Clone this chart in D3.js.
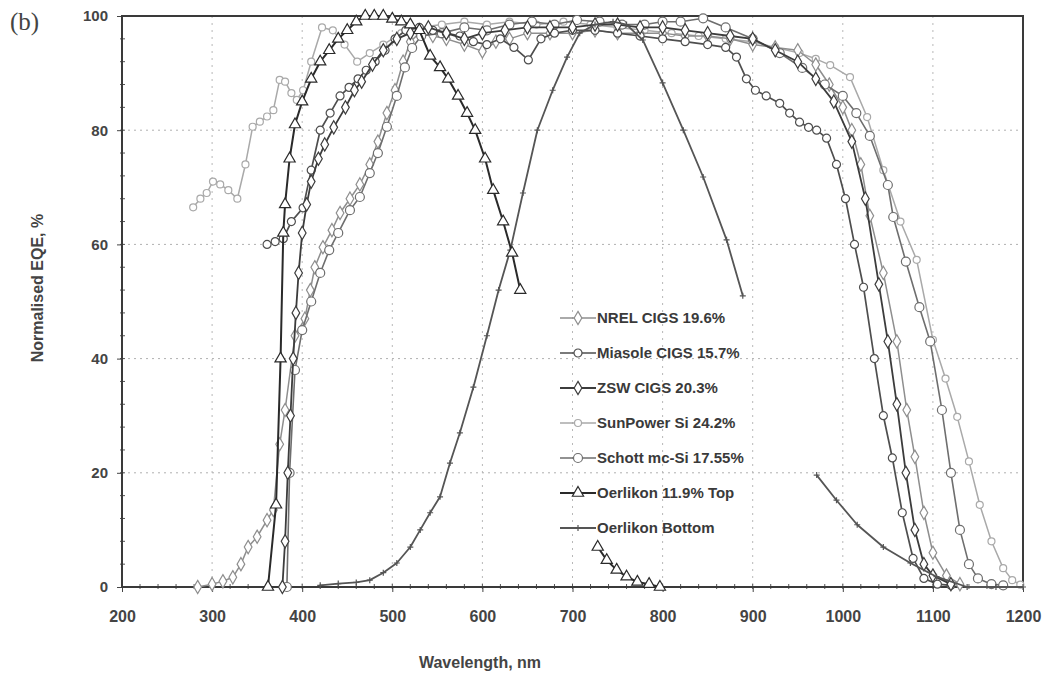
<!DOCTYPE html>
<html>
<head>
<meta charset="utf-8">
<script src="https://cdn.jsdelivr.net/npm/d3@7"></script>
<style>
  body { margin: 0; background: #fff; }
  .tick text { font-family: Arial, "Liberation Sans", sans-serif; font-weight: bold; fill: #444; }
  .label { font-family: Arial, "Liberation Sans", sans-serif; font-weight: bold; fill: #444; }
  .legendText { font-family: Arial, "Liberation Sans", sans-serif; font-weight: bold; font-size: 15px; fill: #3a3a3a; }
</style>
</head>
<body>
<svg id="visual0" width="1052" height="687"></svg>
<script>
// Tick values
var xTicks = [200, 300, 400, 500, 600, 700, 800, 900, 1000, 1100, 1200];
var yTicks = [0, 20, 40, 60, 80, 100];

// Series names (legend order)
var seriesNames = ["NREL CIGS 19.6%", "Miasole CIGS 15.7%", "ZSW CIGS 20.3%", "SunPower Si 24.2%",
  "Schott mc-Si 17.55%", "Oerlikon 11.9% Top", "Oerlikon Bottom"];

// Data (wavelength nm, normalised EQE %)
var nrelNm = [284, 300, 312, 323, 332, 340, 350, 361, 368, 375, 381, 392, 403, 409, 414, 423, 433, 442, 453, 464, 475, 484, 494, 503, 512, 520, 530, 545, 560, 580, 600, 615, 630, 650, 675, 700, 725, 750, 775, 800, 825, 850, 875, 900, 925, 950, 970, 985, 1000, 1010, 1020, 1030, 1045, 1060, 1071, 1080, 1090, 1100, 1115, 1130];
var nrelEqe = [0, 0.5, 1, 1.7, 4, 7, 8.8, 11.7, 13.5, 25, 31, 44, 47, 52, 56, 59.5, 62.5, 65.5, 68, 70.5, 74, 78, 83, 87, 92, 95.5, 97, 96.5, 96, 95, 93.8, 95.5, 96, 97, 97, 97, 97.5, 97, 97, 97, 96.5, 96.5, 96, 95, 94.5, 94, 91.5, 88, 84, 80, 74, 65, 55, 43, 31, 22.8, 13, 6, 2, 0.5];

var miasoleNm = [361, 370, 379, 388, 401, 410, 420, 431, 442, 452, 462, 471, 481, 492, 503, 515, 530, 545, 560, 575, 590, 605, 620, 635, 651, 665, 680, 700, 725, 750, 775, 800, 825, 850, 870, 882, 893, 903, 915, 930, 941, 952, 962, 971, 982, 993, 1003, 1013, 1023, 1035, 1045, 1055, 1066, 1078, 1090, 1105, 1120];
var miasoleEqe = [60, 60.5, 61, 64, 66.4, 73, 80, 83, 86, 87.5, 89, 90.5, 92, 94, 96, 97.5, 98, 97.5, 97, 96.5, 95.5, 95, 96, 94.5, 92.3, 96, 97, 97.5, 97.5, 97, 96.5, 96, 95.5, 95, 94.5, 92.8, 89, 87, 86, 84.7, 83, 81.4, 80.5, 80, 78.6, 74, 68, 60, 52.5, 40, 30, 22.6, 13, 5, 1.5, 0.5, 0.3];

var zswNm = [378, 381, 384, 387, 390, 393, 396, 400, 405, 410, 418, 425, 435, 448, 458, 466, 478, 490, 505, 520, 540, 560, 580, 600, 625, 650, 675, 700, 725, 750, 775, 800, 825, 850, 875, 900, 925, 950, 970, 990, 1010, 1025, 1040, 1050, 1060, 1070, 1080, 1090, 1100, 1120];
var zswEqe = [0, 8, 20, 30, 40, 48, 55, 62, 67, 71, 75, 77.5, 80.5, 84, 87, 88.5, 91.5, 94, 96, 97, 98, 97, 96, 97, 97.5, 98, 98, 98, 98.5, 98.5, 98, 98, 97.5, 97, 96.5, 96, 94, 92, 89, 85, 78, 68, 53, 43, 32, 20, 10, 4, 2, 0.5];

var sunpowerNm = [279, 287, 294, 301, 309, 318, 328, 337, 345, 353, 361, 368, 375, 381, 388, 394, 401, 410, 422, 434, 447, 461, 475, 490, 510, 530, 555, 580, 605, 630, 660, 690, 720, 750, 780, 810, 840, 870, 900, 925, 952, 970, 986, 1008, 1027, 1045, 1064, 1082, 1100, 1114, 1127, 1140, 1152, 1165, 1178, 1188, 1197];
var sunpowerEqe = [66.5, 68, 69, 71, 70.5, 69.5, 68, 74, 80.6, 81.5, 82.4, 83.5, 88.8, 88.5, 86.5, 85.3, 87, 92, 98, 97.5, 95, 92, 93.5, 95, 97, 98, 98.5, 99, 98.5, 99, 98.5, 99, 98.5, 98, 97.5, 97, 96.5, 96, 95.5, 94.5, 93.5, 92.5, 91.4, 89.3, 82.3, 73, 64, 57.3, 43.3, 36.5, 29.8, 22, 14.4, 8, 3.3, 1.2, 0.4];

var schottNm = [383, 386, 392, 400, 410, 420, 430, 440, 453, 464, 475, 484, 494, 505, 514, 522, 532, 555, 580, 605, 630, 655, 680, 705, 730, 755, 780, 800, 820, 845, 870, 900, 930, 955, 980, 1000, 1015, 1030, 1050, 1056, 1070, 1085, 1097, 1110, 1120, 1130, 1140, 1150, 1165, 1178];
var schottEqe = [0, 20, 38, 45, 50, 55, 59, 62, 66, 68.3, 72.5, 76, 80.6, 86, 91, 94.4, 96.5, 97, 98, 97.5, 98.5, 99, 98.5, 99.3, 99, 98.5, 98.5, 99, 99, 99.6, 98, 96, 93.5, 90.9, 88, 86, 83, 79, 70.4, 64.8, 57, 49, 43, 31, 20, 10, 4, 1.5, 0.5, 0.3];

// null marks a gap in the curve
var oerTopNm = [362, 371, 376, 379, 381, 386, 392, 400, 410, 420, 430, 440, 450, 460, 470, 480, 490, 500, 510, 520, 530, 542, 553, 562, 573, 583, 592, 603, 612, 623, 633, 642, 690, 728, 738, 749, 760, 772, 785, 797];
var oerTopEqe = [0, 14.4, 40, 62, 67, 75, 81, 85, 89, 92, 94, 96, 97.5, 99, 100, 100, 100, 99.5, 99, 98.5, 97.5, 93, 91, 89, 86, 83, 80, 75, 69.5, 64, 58.5, 52, null, 7, 4.7, 3, 1.8, 0.9, 0.5, 0];

var oerBotNm = [420, 440, 460, 475, 490, 505, 520, 531, 542, 553, 564, 575, 590, 605, 618, 631, 645, 661, 678, 694, 708, 725, 745, 760, 778, 800, 823, 845, 871, 889, 930, 971, 993, 1016, 1045, 1075, 1104, 1138, 1170, 1200];
var oerBotEqe = [0.3, 0.6, 0.8, 1.2, 2.5, 4.2, 7, 10, 13, 15.8, 21.7, 27, 35, 44, 52, 59, 69, 80, 87, 92.8, 97, 98.5, 99, 98.5, 95.8, 88.3, 80, 71.8, 60.8, 51, null, 19.6, 15.2, 10.9, 7, 4.2, 1.8, 0, 0, 0];

// Define margins
var margin = { top: 16, right: 29, bottom: 100, left: 122 },
  width = 1052 - margin.left - margin.right,
  height = 687 - margin.top - margin.bottom;

// Define scales
var xScale = d3.scaleLinear().domain([200, 1200]).range([0, width]);
var yScale = d3.scaleLinear().domain([0, 100]).range([height, 0]);

// Build series list
function pairs(nm, eqe) {
  return nm.map(function(d, i) { return { nm: d, eqe: eqe[i] }; });
}
var series = [
  { name: seriesNames[3], values: pairs(sunpowerNm, sunpowerEqe), color: "#a9a9a9", shape: "circle", r: 3.5, w: 1.5 },
  { name: seriesNames[0], values: pairs(nrelNm, nrelEqe), color: "#8e8e8e", shape: "diamond", r: 4, w: 1.5 },
  { name: seriesNames[4], values: pairs(schottNm, schottEqe), color: "#6e6e6e", shape: "circle", r: 4.5, w: 1.6 },
  { name: seriesNames[1], values: pairs(miasoleNm, miasoleEqe), color: "#4e4e4e", shape: "circle", r: 4, w: 1.7 },
  { name: seriesNames[2], values: pairs(zswNm, zswEqe), color: "#3c3c3c", shape: "diamond", r: 4, w: 1.8 },
  { name: seriesNames[6], values: pairs(oerBotNm, oerBotEqe), color: "#555555", shape: "plus", r: 3, w: 1.8 },
  { name: seriesNames[5], values: pairs(oerTopNm, oerTopEqe), color: "#2a2a2a", shape: "triangle", r: 4, w: 2 }
];

// Define svg canvas
var svg = d3.select("#visual0")
  .append("g")
  .attr("transform", "translate(" + margin.left + "," + margin.top + ")");

// Grid lines
svg.append("g").selectAll("line")
  .data(yTicks.slice(1, -1))
  .enter().append("line")
  .attr("x1", 0).attr("x2", width)
  .attr("y1", function(d) { return yScale(d); })
  .attr("y2", function(d) { return yScale(d); })
  .style("stroke", "#b0b0b0").style("stroke-dasharray", "2,4");

svg.append("g").selectAll("line")
  .data(xTicks.slice(1, -1))
  .enter().append("line")
  .attr("y1", 0).attr("y2", height)
  .attr("x1", function(d) { return xScale(d); })
  .attr("x2", function(d) { return xScale(d); })
  .style("stroke", "#b8b8b8").style("stroke-dasharray", "2,5");

// Minor ticks
svg.append("g").selectAll("line")
  .data(d3.range(220, 1200, 20))
  .enter().append("line")
  .attr("x1", function(d) { return xScale(d); })
  .attr("x2", function(d) { return xScale(d); })
  .attr("y1", height - 3).attr("y2", height + 2)
  .style("stroke", "#555");

svg.append("g").selectAll("line")
  .data(d3.range(4, 100, 4))
  .enter().append("line")
  .attr("x1", -2).attr("x2", 3)
  .attr("y1", function(d) { return yScale(d); })
  .attr("y2", function(d) { return yScale(d); })
  .style("stroke", "#555");

// Place the axes on the chart
var xAxis = d3.axisBottom(xScale).tickValues(xTicks).tickFormat(d3.format("d")).tickSize(5).tickPadding(19);
var yAxis = d3.axisLeft(yScale).tickValues(yTicks).tickFormat(d3.format("d")).tickSize(5).tickPadding(9);

svg.append("g")
  .attr("class", "x axis")
  .attr("transform", "translate(0," + height + ")")
  .call(xAxis)
  .call(function(g) { g.select(".domain").remove(); })
  .selectAll("text").style("font-size", "16px");

svg.append("g")
  .attr("class", "y axis")
  .call(yAxis)
  .call(function(g) { g.select(".domain").remove(); })
  .selectAll("text").style("font-size", "15px");

svg.selectAll(".tick line").style("stroke", "#444");

// Plot frame
svg.append("rect")
  .attr("width", width).attr("height", height)
  .style("fill", "none").style("stroke", "#3a3a3a").style("stroke-width", 2);

// Define line
var line = d3.line()
  .defined(function(d) { return d.eqe !== null; })
  .x(function(d) { return xScale(d.nm); })
  .y(function(d) { return yScale(d.eqe); });

function markerPath(shape, r) {
  if (shape === "diamond") return d3.symbol().type(d3.symbolDiamond).size(r * r * 3.2)();
  if (shape === "triangle") return d3.symbol().type(d3.symbolTriangle).size(r * r * 3.4)();
  if (shape === "plus") return "M" + (-r) + ",0H" + r + "M0," + (-r) + "V" + r;
  return d3.symbol().type(d3.symbolCircle).size(Math.PI * r * r)();
}

var curves = svg.selectAll(".category")
  .data(series)
  .enter()
  .append("g")
  .attr("class", "category");

curves.append("path")
  .attr("d", function(d) { return line(d.values); })
  .style("fill", "none")
  .style("stroke", function(d) { return d.color; })
  .style("stroke-width", function(d) { return d.w; })
  .style("stroke-linejoin", "round");

curves.each(function(s) {
  d3.select(this).selectAll(".pt")
    .data(s.values.filter(function(d) { return d.eqe !== null; }))
    .enter().append("path")
    .attr("class", "pt")
    .attr("transform", function(d) { return "translate(" + xScale(d.nm) + "," + yScale(d.eqe) + ")"; })
    .attr("d", markerPath(s.shape, s.r))
    .style("fill", s.shape === "plus" ? "none" : "#fff")
    .style("stroke", s.color)
    .style("stroke-width", 1.2);
});

// Legend
var legendOrder = [1, 3, 4, 0, 2, 6, 5];
var lineLegend = svg.selectAll(".lineLegend")
  .data(legendOrder.map(function(i) { return series[i]; }))
  .enter().append("g")
  .attr("class", "lineLegend")
  .attr("transform", function(d, i) { return "translate(" + (560 - margin.left) + "," + (318 - margin.top + i * 35) + ")"; });

lineLegend.append("line")
  .attr("x1", 0).attr("x2", 36)
  .style("stroke", function(d) { return d.color; })
  .style("stroke-width", function(d) { return d.w; });

lineLegend.append("path")
  .attr("transform", "translate(18,0)")
  .attr("d", function(d) { return markerPath(d.shape, d.r); })
  .style("fill", function(d) { return d.shape === "plus" ? "none" : "#fff"; })
  .style("stroke", function(d) { return d.color; })
  .style("stroke-width", 1.2);

lineLegend.append("text")
  .attr("class", "legendText")
  .attr("x", 37).attr("dy", "0.35em")
  .text(function(d) { return d.name; });

// Axis titles
d3.select("#visual0").append("text")
  .attr("class", "label")
  .attr("x", 480).attr("y", 668)
  .style("text-anchor", "middle").style("font-size", "16px")
  .text("Wavelength, nm");

d3.select("#visual0").append("text")
  .attr("class", "label")
  .attr("transform", "translate(43,288) rotate(-90)")
  .style("text-anchor", "middle").style("font-size", "16px")
  .text("Normalised EQE, %");

d3.select("#visual0").append("text")
  .attr("x", 10).attr("y", 30)
  .style("font-family", "'Liberation Serif', 'DejaVu Serif', serif")
  .style("font-size", "25px").style("fill", "#444")
  .text("(b)");
</script>
</body>
</html>
